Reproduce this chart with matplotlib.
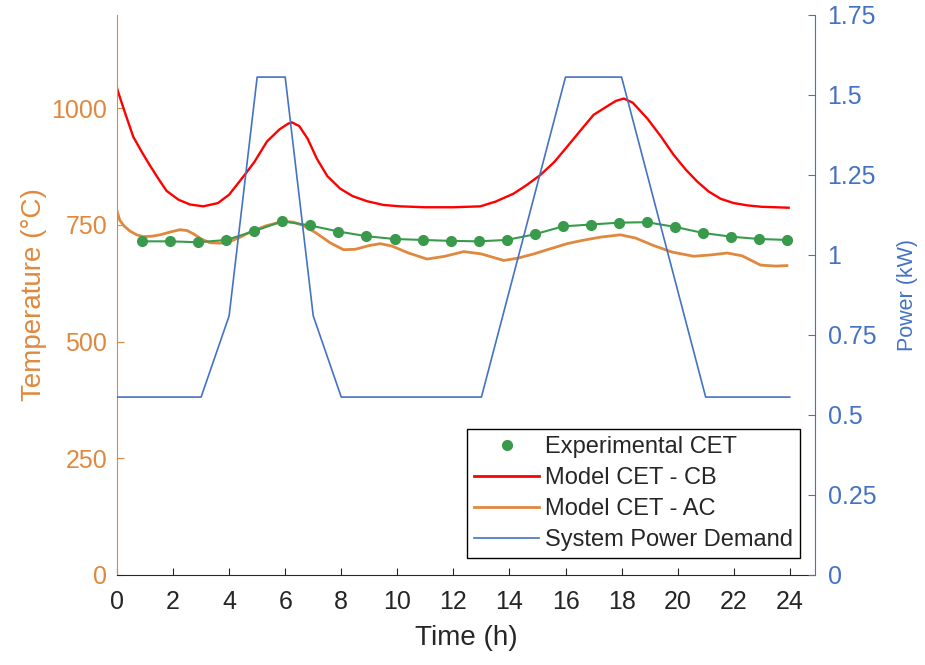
import matplotlib
matplotlib.use('Agg')
import matplotlib.pyplot as plt
from matplotlib.lines import Line2D
from matplotlib.ticker import FuncFormatter

plt.rcParams['font.family'] = ['Liberation Sans', 'DejaVu Sans']

ORANGE = '#E0883D'
BLUE = '#4472C4'
GREEN = '#3A9A4C'
RED = '#FF0000'
DARK = '#262626'

# Experimental CET (hourly readings)
exp_t = [0.9, 1.9, 2.9, 3.9, 4.9, 5.9, 6.9, 7.9, 8.9, 9.9, 10.9, 11.9,
         12.9, 13.9, 14.9, 15.9, 16.9, 17.9, 18.9, 19.9, 20.9, 21.9, 22.9, 23.9]
exp_temp = [715, 715, 713, 718, 737, 758, 749, 736, 726, 720, 718, 716,
            715, 718, 730, 747, 751, 755, 756, 746, 733, 725, 720, 718]

# Model CET - CB
cb_t = [0.0, 0.15, 0.3, 0.58, 0.9, 1.18, 1.5, 1.77, 2.2, 2.6, 3.08, 3.6, 4.0, 4.51, 4.9,
        5.35, 5.8, 6.1, 6.24, 6.5, 6.8, 7.13, 7.5, 7.96, 8.4, 8.92, 9.5, 10.1,
        11.0, 12.0, 12.96, 13.5, 14.14, 14.6, 15.1, 15.6, 16.06, 16.5, 17.0,
        17.5, 17.8, 18.08, 18.4, 18.92, 19.4, 19.86, 20.3, 20.7, 21.1, 21.54,
        22.0, 22.49, 23.0, 23.5, 23.96]
cb_temp = [1043, 1015, 988, 939, 905, 877, 847, 823, 804, 794, 790, 797, 815, 854, 885,
           929, 955, 967, 970, 962, 935, 892, 855, 828, 812, 801, 793, 790,
           788, 788, 790, 800, 817, 835, 857, 885, 918, 950, 986,
           1005, 1016, 1021, 1012, 978, 940, 900, 868, 843, 822, 806,
           797, 792, 789, 788, 787]

# Model CET - AC
ac_t = [0.0, 0.1, 0.25, 0.46, 0.7, 0.94, 1.25, 1.54, 1.9, 2.25, 2.5, 2.73, 3.0, 3.32,
        3.7, 4.04, 4.4, 4.75, 5.3, 5.94, 6.3, 6.65, 7.1, 7.6, 8.08, 8.5, 9.0,
        9.39, 9.8, 10.4, 11.06, 11.7, 12.37, 13.0, 13.8, 14.3, 14.87, 15.4,
        16.06, 16.6, 17.25, 17.96, 18.5, 19.14, 19.8, 20.57, 21.2, 21.77,
        22.3, 22.96, 23.5, 23.9]
ac_temp = [780, 760, 748, 737, 729, 725, 726, 729, 735, 740, 738, 731, 720, 712,
           711, 715, 724, 735, 748, 758, 756, 749, 733, 712, 697, 698, 706,
           710, 705, 690, 677, 683, 693, 688, 674, 679, 688, 698,
           710, 717, 724, 729, 722, 706, 692, 683, 686, 690,
           684, 664, 662, 663]

# System Power Demand
pw_t = [0, 3, 4, 5, 6, 7, 8, 13, 16, 18, 21, 24]
pw_kw = [0.556, 0.556, 0.81, 1.556, 1.556, 0.81, 0.556, 0.556, 1.556, 1.556, 0.556, 0.556]

x_ticks = list(range(0, 25, 2))
temp_ticks = [0, 250, 500, 750, 1000]
power_ticks = [0, 0.25, 0.5, 0.75, 1, 1.25, 1.5, 1.75]

fig = plt.figure(figsize=(9.25, 6.65), dpi=100)
ax = fig.add_axes([117 / 925, 1 - 575 / 665, 698 / 925, 560 / 665])
ax2 = ax.twinx()

ax.plot(exp_t, exp_temp, color=GREEN, lw=1.5, marker='o', markersize=7, zorder=3)
ax.plot(cb_t, cb_temp, color=RED, lw=1.7, zorder=2)
ax.plot(ac_t, ac_temp, color=ORANGE, lw=2.0, zorder=2)
ax2.plot(pw_t, pw_kw, color=BLUE, lw=1.2)

ax.set_xlim(0, 24.9)
ax.set_ylim(0, 1200)
ax2.set_ylim(0, 1.75)

ax.set_xticks(x_ticks)
ax.set_yticks(temp_ticks)
ax2.set_yticks(power_ticks)
ax2.yaxis.set_major_formatter(FuncFormatter(lambda v, p: f'{v:g}'))

for a in (ax, ax2):
    a.spines['top'].set_visible(False)
ax2.spines['left'].set_visible(False)
ax2.spines['bottom'].set_visible(False)
ax.spines['right'].set_visible(False)
ax.spines['left'].set_color(ORANGE)
ax.spines['bottom'].set_color(DARK)
ax2.spines['right'].set_color(BLUE)

ax.tick_params(axis='x', direction='in', length=5, colors=DARK, labelsize=18, pad=11)
ax.tick_params(axis='y', direction='in', length=5, colors=ORANGE, labelsize=18, pad=7)
ax2.tick_params(axis='y', direction='in', length=5, colors=BLUE, labelsize=18, pad=9)

ax.set_xlabel('Time (h)', fontsize=20, color=DARK, labelpad=8)
ax.set_ylabel('Temperature (°C)', fontsize=20, color=ORANGE, labelpad=3)
ax2.set_ylabel('Power (kW)', fontsize=15.5, color=BLUE, labelpad=15)

handles = [
    Line2D([], [], color=GREEN, marker='o', markersize=7, linestyle='none'),
    Line2D([], [], color=RED, lw=2),
    Line2D([], [], color=ORANGE, lw=2),
    Line2D([], [], color=BLUE, lw=1.2),
]
labels = ['Experimental CET', 'Model CET - CB', 'Model CET - AC', 'System Power Demand']
leg = ax2.legend(handles, labels, loc='lower right', bbox_to_anchor=(0.979, 0.03),
                 borderaxespad=0, fontsize=17, fancybox=False, framealpha=1,
                 edgecolor='black', handlelength=2.75, handletextpad=0.25,
                 labelspacing=0.38, borderpad=0.3)
leg.get_frame().set_linewidth(1.0)
for t in leg.get_texts():
    t.set_color(DARK)

fig.savefig('out.png', dpi=100)
